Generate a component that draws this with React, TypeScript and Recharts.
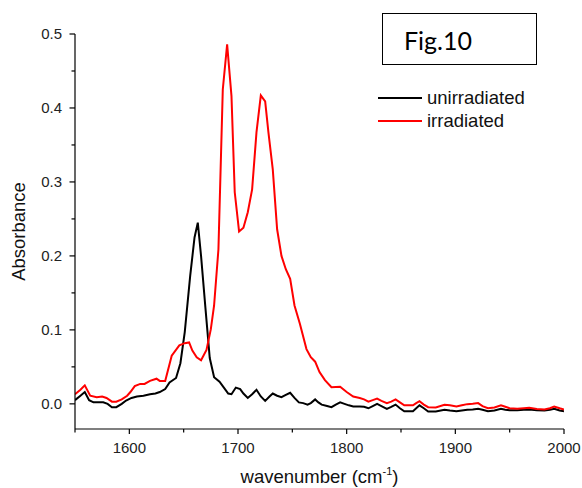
import { LineChart, Line, XAxis, YAxis, Legend } from 'recharts';

// wavenumber (cm-1) / absorbance
const unirrWn = [
  1550, 1555, 1559, 1563, 1567, 1576, 1580, 1584, 1588, 1593, 1597, 1602, 1607, 1613, 1619, 1624,
  1628, 1633, 1637, 1643, 1647, 1651, 1656, 1660, 1663, 1666, 1670, 1674, 1678, 1683, 1687, 1691,
  1694, 1698, 1702, 1705, 1709, 1713, 1717, 1721, 1725, 1729, 1732, 1736, 1740, 1744, 1748, 1752,
  1756, 1760, 1764, 1767, 1771, 1774, 1777, 1782, 1786, 1790, 1794, 1798, 1802, 1806, 1812, 1816,
  1820, 1824, 1828, 1832, 1837, 1841, 1845, 1849, 1853, 1857, 1861, 1864, 1867, 1871, 1875, 1882,
  1890, 1895, 1901, 1906, 1911, 1916, 1921, 1925, 1930, 1936, 1942, 1946, 1950, 1957, 1963, 1968,
  1975, 1982, 1987, 1991, 1996, 2000,
];
const unirrAbs = [
  0.005, 0.011, 0.016, 0.005, 0.002, 0.002, 0.0, -0.0045, -0.0045, 0.0, 0.0045, 0.008, 0.01, 0.011, 0.013, 0.014,
  0.016, 0.02, 0.029, 0.035, 0.055, 0.097, 0.173, 0.225, 0.245, 0.2, 0.13, 0.062, 0.036, 0.03, 0.022, 0.014,
  0.013, 0.022, 0.02, 0.014, 0.008, 0.013, 0.019, 0.01, 0.004, 0.01, 0.014, 0.011, 0.009, 0.012, 0.015, 0.008,
  0.002, 0.001, -0.001, 0.001, 0.006, 0.002, -0.001, -0.003, -0.0045, -0.001, 0.002, 0.0, -0.002, -0.0036, -0.0036, -0.004,
  -0.006, -0.003, 0.0, -0.003, -0.0067, -0.004, -0.001, -0.006, -0.01, -0.01, -0.0099, -0.006, -0.002, -0.006, -0.0103, -0.0103,
  -0.008, -0.009, -0.0099, -0.009, -0.008, -0.0075, -0.0067, -0.008, -0.0099, -0.009, -0.0067, -0.008, -0.0085, -0.0085, -0.008, -0.0076,
  -0.0085, -0.009, -0.008, -0.0067, -0.009, -0.0099,
];

const irrWn = [
  1550, 1555, 1559, 1564, 1570, 1575, 1579, 1584, 1588, 1593, 1598, 1601, 1605, 1610, 1614, 1619,
  1625, 1628, 1633, 1639, 1646, 1651, 1655, 1658, 1662, 1666, 1671, 1675, 1678, 1682, 1686, 1690,
  1694, 1697, 1701, 1705, 1709, 1713, 1717, 1721, 1725, 1728, 1732, 1736, 1740, 1744, 1748, 1752,
  1757, 1763, 1767, 1771, 1775, 1780, 1786, 1794, 1800, 1806, 1812, 1816, 1820, 1824, 1828, 1832,
  1837, 1841, 1845, 1849, 1853, 1861, 1864, 1867, 1871, 1875, 1882, 1890, 1895, 1901, 1906, 1911,
  1916, 1921, 1925, 1930, 1936, 1942, 1946, 1950, 1957, 1963, 1968, 1975, 1982, 1987, 1991, 1996,
  2000,
];
const irrAbs = [
  0.013, 0.019, 0.025, 0.011, 0.009, 0.01, 0.008, 0.003, 0.003, 0.006, 0.011, 0.016, 0.024, 0.027, 0.027, 0.031,
  0.034, 0.031, 0.031, 0.065, 0.079, 0.082, 0.083, 0.072, 0.063, 0.059, 0.073, 0.101, 0.133, 0.209, 0.425, 0.486,
  0.416, 0.286, 0.233, 0.238, 0.259, 0.29, 0.367, 0.417, 0.409, 0.367, 0.317, 0.236, 0.2, 0.182, 0.169, 0.133,
  0.108, 0.074, 0.063, 0.057, 0.043, 0.032, 0.0225, 0.023, 0.016, 0.01, 0.008, 0.006, 0.003, 0.005, 0.007, 0.004,
  0.001, 0.003, 0.006, 0.002, -0.002, -0.002, 0.001, 0.0036, -0.001, -0.0045, -0.005, -0.0013, -0.002, -0.0036, -0.002, -0.0004,
  0.0, 0.001, -0.003, -0.006, -0.005, -0.002, -0.004, -0.006, -0.0067, -0.006, -0.0054, -0.007, -0.0077, -0.006, -0.0036, -0.006,
  -0.0077,
];

const seriesNames = ['unirradiated', 'irradiated'];
const xTicks = [1550, 1600, 1650, 1700, 1750, 1800, 1850, 1900, 1950, 2000];
const yTicks = [0, 0.05, 0.1, 0.15, 0.2, 0.25, 0.3, 0.35, 0.4, 0.45, 0.5];

const unirrData = unirrWn.map((wn, i) => ({ wn, abs: unirrAbs[i] }));
const irrData = irrWn.map((wn, i) => ({ wn, abs: irrAbs[i] }));

const FONT = '"Liberation Sans", Arial, sans-serif';

function XTick({ x, y, payload }: any) {
  const major = payload.value % 100 === 0;
  return (
    <g>
      <line x1={x} x2={x} y1={y} y2={y + (major ? 5 : 3.5)} stroke="#000" strokeWidth={1.2} />
      {major && (
        <text x={x} y={y + 24} textAnchor="middle" fontSize={15} fontFamily={FONT} fill="#222">
          {payload.value}
        </text>
      )}
    </g>
  );
}

function YTick({ x, y, payload }: any) {
  const v = payload.value;
  const major = Math.abs(v * 10 - Math.round(v * 10)) < 1e-6;
  return (
    <g>
      <line x1={x - (major ? 5.5 : 3.5)} x2={x} y1={y} y2={y} stroke="#000" strokeWidth={1.2} />
      {major && (
        <text x={x - 13} y={y + 5} textAnchor="end" fontSize={15} fontFamily={FONT} fill="#222">
          {v.toFixed(1)}
        </text>
      )}
    </g>
  );
}

function renderLegend({ payload }: any) {
  // keep the series order of the original figure
  const items = [...payload].sort(
    (a: any, b: any) => seriesNames.indexOf(a.value) - seriesNames.indexOf(b.value)
  );
  return (
    <div style={{ fontFamily: FONT, fontSize: 18.5, lineHeight: '23px', color: '#111' }}>
      {items.map((entry: any) => (
        <div key={entry.value} style={{ display: 'flex', alignItems: 'center', height: 23 }}>
          <svg width={44} height={4} style={{ marginRight: 5 }}>
            <line x1={0} x2={44} y1={2} y2={2} stroke={entry.color} strokeWidth={2} />
          </svg>
          <span>{entry.value}</span>
        </div>
      ))}
    </div>
  );
}

export default function App() {
  return (
    <div style={{ position: 'fixed', left: 0, top: 0, width: 582, height: 488, background: '#fff' }}>
      <LineChart width={582} height={488} margin={{ top: 34, right: 18, left: 0, bottom: 0 }}>
        <XAxis
          type="number"
          dataKey="wn"
          domain={[1550, 2000]}
          ticks={xTicks}
          interval={0}
          allowDataOverflow
          height={59}
          tickSize={0}
          tickMargin={0}
          tickLine={false}
          tick={<XTick />}
          axisLine={{ stroke: '#000', strokeWidth: 1.2 }}
          label={({ viewBox }: any) => (
            <text
              x={viewBox.x + viewBox.width / 2}
              y={483}
              textAnchor="middle"
              fontSize={18.5}
              fontFamily={FONT}
              fill="#111"
            >
              wavenumber (cm
              <tspan fontSize={11} dy={-8}>-1</tspan>
              <tspan dy={8}>)</tspan>
            </text>
          )}
        />
        <YAxis
          type="number"
          dataKey="abs"
          domain={[-0.034, 0.5]}
          ticks={yTicks}
          interval={0}
          allowDataOverflow
          width={75}
          tickSize={0}
          tickMargin={0}
          tickLine={false}
          tick={<YTick />}
          axisLine={{ stroke: '#000', strokeWidth: 1.2 }}
          label={({ viewBox }: any) => {
            const cy = viewBox.y + viewBox.height / 2;
            return (
              <text
                x={25}
                y={cy}
                transform={`rotate(-90, 25, ${cy})`}
                textAnchor="middle"
                fontSize={18.5}
                fontFamily={FONT}
                fill="#111"
              >
                Absorbance
              </text>
            );
          }}
        />
        <Legend
          layout="vertical"
          verticalAlign="middle"
          align="center"
          content={renderLegend}
          wrapperStyle={{ left: 378, top: 86, width: 'auto' }}
        />
        <Line
          data={unirrData}
          dataKey="abs"
          name={seriesNames[0]}
          type="linear"
          stroke="#000"
          strokeWidth={2}
          dot={false}
          isAnimationActive={false}
        />
        <Line
          data={irrData}
          dataKey="abs"
          name={seriesNames[1]}
          type="linear"
          stroke="#ff0000"
          strokeWidth={2}
          dot={false}
          isAnimationActive={false}
        />
      </LineChart>
      <div
        style={{
          position: 'absolute',
          left: 382,
          top: 13,
          width: 132,
          height: 50,
          border: '1.5px solid #000',
          fontFamily: 'Lato, "Open Sans", sans-serif',
          fontSize: 25,
          lineHeight: '52px',
          paddingLeft: 21,
          boxSizing: 'content-box',
          color: '#000',
        }}
      >
        Fig.10
      </div>
    </div>
  );
}
